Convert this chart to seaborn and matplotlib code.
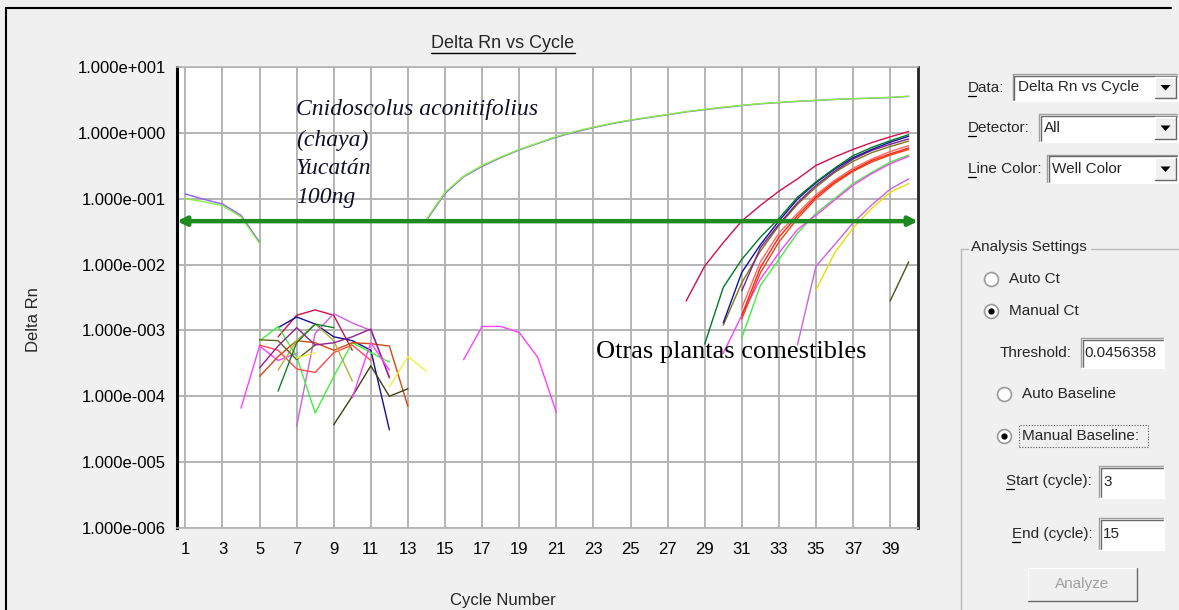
import numpy as np
import pandas as pd
import matplotlib
matplotlib.use("Agg")
import matplotlib.pyplot as plt
import seaborn as sns
from matplotlib.lines import Line2D
from matplotlib.patches import Rectangle, Polygon
from matplotlib.ticker import FixedLocator, NullLocator

# ---------------- data ----------------
title_text = "Delta Rn vs Cycle"
x_label = "Cycle Number"
y_label = "Delta Rn"
threshold = 0.0456358
x_ticks = list(range(1, 40, 2))
x_tick_labels = [str(t) for t in x_ticks]
y_ticks = [1e-6, 1e-5, 1e-4, 1e-3, 1e-2, 1e-1, 1e0, 1e1]
y_tick_labels = ["1.000e-006", "1.000e-005", "1.000e-004", "1.000e-003",
                 "1.000e-002", "1.000e-001", "1.000e+000", "1.000e+001"]

# chaya (Cnidoscolus aconitifolius) wells
chaya_early_cycles = [1, 2, 3, 4, 5]
chaya_purple_early = [0.118, 0.098, 0.083, 0.056, 0.022]
chaya_green_early = [0.100, 0.090, 0.078, 0.053, 0.021]
chaya_late_cycles = list(range(14, 41))
chaya_green_late = [0.049, 0.125, 0.22, 0.32, 0.43, 0.56, 0.70, 0.88, 1.05, 1.22,
                    1.40, 1.57, 1.73, 1.90, 2.10, 2.28, 2.45, 2.62, 2.78, 2.90,
                    3.02, 3.12, 3.22, 3.30, 3.38, 3.46, 3.60]
chaya_purple_late = [0.047, 0.12, 0.215, 0.31, 0.42, 0.55, 0.69, 0.86, 1.03, 1.20,
                     1.38, 1.55, 1.71, 1.88, 2.08, 2.25, 2.42, 2.60, 2.76, 2.88,
                     3.00, 3.10, 3.22, 3.30, 3.36, 3.44, 3.58]

# late-amplifying wells (other edible plants): start cycle + values
amp_crimson = (28, [0.0028, 0.0095, 0.0215, 0.046, 0.079, 0.13, 0.20, 0.32, 0.43, 0.56, 0.71, 0.87, 1.05])
amp_darkgreen = (29, [0.00062, 0.0045, 0.012, 0.026, 0.05, 0.105, 0.18, 0.29, 0.45, 0.60, 0.76, 0.94])
amp_blue = (30, [0.0013, 0.0076, 0.02, 0.046, 0.098, 0.175, 0.28, 0.42, 0.56, 0.72, 0.89])
amp_olive = (30, [0.0012, 0.0053, 0.016, 0.039, 0.082, 0.15, 0.25, 0.37, 0.50, 0.62, 0.75])
amp_purple = (31, [0.004, 0.018, 0.041, 0.087, 0.16, 0.26, 0.40, 0.54, 0.67, 0.81])
amp_red = (31, [0.0017, 0.009, 0.026, 0.055, 0.107, 0.18, 0.27, 0.38, 0.48, 0.59])
amp_orange = (31, [0.0015, 0.0075, 0.022, 0.05, 0.10, 0.17, 0.26, 0.36, 0.46, 0.56])
amp_salmon = (31, [0.0022, 0.011, 0.030, 0.060, 0.115, 0.19, 0.29, 0.40, 0.52, 0.64])
amp_pink = (30, [0.00045, 0.0017, 0.006, 0.015, 0.034, 0.056, 0.095, 0.16, 0.24, 0.34, 0.44])
amp_lime = (31, [0.00077, 0.0048, 0.012, 0.030, 0.060, 0.10, 0.17, 0.25, 0.36, 0.46])
amp_orchid = (34, [0.0006, 0.0094, 0.020, 0.043, 0.080, 0.14, 0.20])
amp_yellow = (35, [0.0041, 0.015, 0.036, 0.071, 0.125, 0.17])
amp_darkolive = (39, [0.0028, 0.011])

# background noise wells: start cycle + values
noise_magenta1 = (4, [6.6e-5, 5.8e-4, 3.5e-4, 4.5e-4])
noise_crimson = (6, [8e-4, 1.7e-3, 2.05e-3, 1.7e-3, 5e-4])
noise_navy = (6, [1.1e-3, 1.6e-3, 1.25e-3, 8e-4, 7e-4, 5e-4, 3.1e-5])
noise_orchid = (7, [3.5e-5, 9e-4, 1.8e-3, 1.3e-3, 1.0e-3, 2e-4])
noise_lime = (5, [6.9e-4, 1.15e-3, 4e-4, 5.6e-5, 2e-4, 6.5e-4, 4.6e-4, 3.3e-4])
noise_orange = (5, [2e-4, 4e-4, 7e-4, 6.5e-4, 5e-4, 6.5e-4, 6.3e-4, 5.8e-4, 7e-5])
noise_salmon = (5, [6e-4, 5e-4, 2.6e-4, 2.3e-4, 4.6e-4, 6e-4, 3.5e-4])
noise_khaki = (6, [2.5e-4, 7e-4, 1.25e-3, 7e-4, 1.7e-4])
noise_darkolive = (9, [3.7e-5, 1e-4, 2.9e-4, 1e-4, 1.3e-4])
noise_olivebrown = (5, [7.2e-4, 7e-4, 3.6e-4, 6e-4])
noise_darkgreen = (6, [1.2e-4, 6.5e-4, 1.25e-3, 1.1e-3])
noise_purple = (5, [2.7e-4, 5.8e-4, 1.1e-3, 6e-4, 6.5e-4, 8e-4, 1.05e-3, 1.9e-4])
noise_magenta2 = (10, [9.5e-5, 6.5e-4, 2.5e-4])
noise_yellow1 = (12, [1.4e-4, 4e-4, 2.4e-4])
noise_yellow2 = (7, [3.8e-4, 4.6e-4])
noise_magenta3 = (16, [3.6e-4, 1.15e-3, 1.15e-3, 9.3e-4, 3.9e-4, 5.7e-5])

# ---------------- build long-form table ----------------
wells = [
    ("chaya_purple_a", chaya_early_cycles, chaya_purple_early, "#8a5cf5"),
    ("chaya_green_a", chaya_early_cycles, chaya_green_early, "#86f040"),
    ("chaya_purple_b", chaya_late_cycles, chaya_purple_late, "#8a5cf5"),
    ("chaya_green_b", chaya_late_cycles, chaya_green_late, "#86f040"),
]
series = [
    ("amp_crimson", amp_crimson, "#d0104a"), ("amp_lime", amp_lime, "#40f040"),
    ("amp_pink", amp_pink, "#ff40ff"), ("amp_salmon", amp_salmon, "#ff6a5a"),
    ("amp_orange", amp_orange, "#e04a10"), ("amp_red", amp_red, "#ff2020"),
    ("amp_olive", amp_olive, "#7a7a10"), ("amp_purple", amp_purple, "#802090"),
    ("amp_blue", amp_blue, "#1010a0"), ("amp_darkgreen", amp_darkgreen, "#007a28"),
    ("amp_orchid", amp_orchid, "#cc60e0"), ("amp_yellow", amp_yellow, "#e8e000"),
    ("amp_darkolive", amp_darkolive, "#505018"),
    ("noise_magenta1", noise_magenta1, "#ff40ff"), ("noise_crimson", noise_crimson, "#d0104a"),
    ("noise_navy", noise_navy, "#10109a"), ("noise_orchid", noise_orchid, "#cc60dd"),
    ("noise_lime", noise_lime, "#40f040"), ("noise_orange", noise_orange, "#d04a10"),
    ("noise_salmon", noise_salmon, "#ff4a4a"), ("noise_khaki", noise_khaki, "#b8b040"),
    ("noise_darkolive", noise_darkolive, "#404010"), ("noise_olivebrown", noise_olivebrown, "#606020"),
    ("noise_darkgreen", noise_darkgreen, "#108028"), ("noise_purple", noise_purple, "#902090"),
    ("noise_magenta2", noise_magenta2, "#ff40ff"), ("noise_yellow1", noise_yellow1, "#f0f040"),
    ("noise_yellow2", noise_yellow2, "#f0f040"), ("noise_magenta3", noise_magenta3, "#ff40ff"),
]
for name, (start, vals), col in series:
    wells.append((name, list(range(start, start + len(vals))), vals, col))

rows = []
palette = {}
for name, cyc, vals, col in wells:
    palette[name] = col
    for c, v in zip(cyc, vals):
        rows.append({"cycle": c, "delta_rn": v, "well": name})
df = pd.DataFrame(rows)

# ---------------- figure ----------------
W, H = 1179, 610
sns.set_theme(style="white")
plt.rcParams["font.family"] = ["Liberation Sans", "DejaVu Sans"]
BG = "#f0f0f0"
fig = plt.figure(figsize=(W / 100, H / 100), dpi=100, facecolor=BG)

def fx(x):
    return x / W

def fy(y):
    return 1 - y / H

ax = fig.add_axes([fx(177), fy(528), (918 - 177) / W, (528 - 67) / H])
ax.set_facecolor("white")

sns.lineplot(data=df, x="cycle", y="delta_rn", hue="well", hue_order=list(palette.keys()),
             palette=palette, estimator=None, legend=False, linewidth=1.0, ax=ax, sort=True)

ax.set_yscale("log")
ax.set_ylim(y_ticks[0], y_ticks[-1])
ax.set_xlim(0.55, 40.5)
ax.yaxis.set_major_locator(FixedLocator(y_ticks))
ax.yaxis.set_minor_locator(NullLocator())
ax.set_yticklabels(y_tick_labels)
ax.set_xticks(x_ticks)
ax.set_xticklabels(x_tick_labels)
ax.tick_params(axis="both", length=0, labelsize=12, colors="black")
ax.tick_params(axis="y", pad=8)
ax.tick_params(axis="x", pad=10)
ax.set_xlabel("")
ax.set_ylabel("")
ax.grid(True, color="#b4b4b4", linewidth=1.4)
ax.set_axisbelow(True)
for s in ["top", "bottom"]:
    ax.spines[s].set_visible(True)
    ax.spines[s].set_color("#b4b4b4")
    ax.spines[s].set_linewidth(1.2)
ax.spines["left"].set_color("black")
ax.spines["left"].set_linewidth(2.2)
ax.spines["right"].set_color("#222222")
ax.spines["right"].set_linewidth(2.0)

# threshold line with arrows
ax.annotate("", xy=(1.0, threshold), xytext=(0.0, threshold),
            xycoords=("axes fraction", "data"), textcoords=("axes fraction", "data"),
            arrowprops=dict(arrowstyle="<|-|>", color="#1f8a1f", lw=3.2,
                            mutation_scale=13, shrinkA=0, shrinkB=0))

# annotations
serif = ["Liberation Serif", "DejaVu Serif"]
chaya_lines = ["Cnidoscolus aconitifolius", "(chaya)", "Yucatán", "100ng"]
for txt, yy in zip(chaya_lines, [110, 140, 168, 198]):
    fig.text(fx(296), fy(yy), txt, family=serif, style="italic", fontsize=17,
             color="#101028", ha="left", va="center")
fig.text(fx(596), fy(352), "Otras plantas comestibles", family=serif, fontsize=19,
         color="black", ha="left", va="center")

# titles
t = fig.text(fx(503), fy(43), title_text, fontsize=13, ha="center", va="center")
fig.text(fx(33), fy(320), y_label, fontsize=12, rotation=90, ha="center", va="center")
fig.text(fx(503), fy(601), x_label, fontsize=12, ha="center", va="center")

# ---------------- right-hand control panel ----------------
UI = 11

def line(x0, y0, x1, y1, c, lw=1.0, ls="-"):
    fig.add_artist(Line2D([fx(x0), fx(x1)], [fy(y0), fy(y1)], color=c, lw=lw, ls=ls,
                          transform=fig.transFigure))

def rect(x0, y0, x1, y1, fc, ec="none", lw=0.0):
    fig.add_artist(Rectangle((fx(x0), fy(y1)), (x1 - x0) / W, (y1 - y0) / H, facecolor=fc,
                             edgecolor=ec, lw=lw, transform=fig.transFigure))

def sunken(x0, y0, x1, y1):
    rect(x0, y0, x1, y1, "white")
    line(x0, y0, x1, y0, "#a0a0a0", 1.0)
    line(x0, y0, x0, y1, "#a0a0a0", 1.0)
    line(x0 + 1.5, y0 + 1.5, x1 - 1, y0 + 1.5, "#696969", 1.0)
    line(x0 + 1.5, y0 + 1.5, x0 + 1.5, y1 - 1, "#696969", 1.0)
    line(x0, y1, x1, y1, "#ffffff", 1.0)
    line(x1, y0, x1, y1, "#ffffff", 1.0)

def button(x0, y0, x1, y1):
    rect(x0, y0, x1, y1, BG)
    line(x0, y0, x1, y0, "#ffffff", 1.0)
    line(x0, y0, x0, y1, "#ffffff", 1.0)
    line(x0, y1, x1, y1, "#696969", 1.0)
    line(x1, y0, x1, y1, "#696969", 1.0)

def combo(x0, y0, x1, y1, label_x, label, value):
    fig.text(fx(label_x), fy((y0 + y1) / 2), label, fontsize=UI, ha="left", va="center")
    sunken(x0, y0, x1, y1)
    fig.text(fx(x0 + 5), fy((y0 + y1) / 2), value, fontsize=UI, ha="left", va="center")
    button(x1 - 23, y0 + 3, x1 - 2, y1 - 3)
    cx, cy = x1 - 12.5, (y0 + y1) / 2
    fig.add_artist(Polygon([[fx(cx - 5), fy(cy - 2.5)], [fx(cx + 5), fy(cy - 2.5)], [fx(cx), fy(cy + 3)]],
                           closed=True, facecolor="black", edgecolor="none", transform=fig.transFigure))
    line(label_x, (y0 + y1) / 2 + 8, label_x + 8, (y0 + y1) / 2 + 8, "black", 0.9)

combo(1013, 74, 1178, 101, 968, "Data:", "Delta Rn vs Cycle")
combo(1039, 114, 1178, 142, 968, "Detector:", "All")
combo(1047, 155, 1178, 183, 968, "Line Color:", "Well Color")

# group box
gc = "#b8b8b8"
line(961, 249, 968, 249, gc, 1.0)
line(1091, 249, 1179, 249, gc, 1.0)
line(961, 249, 961, 610, gc, 1.0)
fig.text(fx(971), fy(247), "Analysis Settings", fontsize=UI, ha="left", va="center")

def radio(cx, cy, label, selected):
    fig.add_artist(Line2D([fx(cx)], [fy(cy)], marker="o", ms=10, mfc="white", mec="#9a9a9a",
                          mew=1.2, transform=fig.transFigure))
    if selected:
        fig.add_artist(Line2D([fx(cx)], [fy(cy)], marker="o", ms=3.5, mfc="black", mec="black",
                              transform=fig.transFigure))
    fig.text(fx(cx + 18), fy(cy), label, fontsize=UI, ha="left", va="center")

radio(991, 279, "Auto Ct", False)
radio(991, 311, "Manual Ct", True)
fig.text(fx(1000), fy(353), "Threshold:", fontsize=UI, ha="left", va="center")
sunken(1081, 338, 1164, 368)
fig.text(fx(1084), fy(353), "0.0456358", fontsize=UI, ha="left", va="center")
radio(1004, 394, "Auto Baseline", False)
radio(1004, 436, "Manual Baseline:", True)
fig.add_artist(Rectangle((fx(1019), fy(447)), (1148 - 1019) / W, (447 - 425) / H, facecolor="none",
                         edgecolor="#555555", lw=0.8, ls=(0, (1, 1.5)), transform=fig.transFigure))
fig.text(fx(1006), fy(481), "Start (cycle):", fontsize=UI, ha="left", va="center")
line(1006, 489, 1014, 489, "black", 0.9)
sunken(1099, 466, 1164, 498)
fig.text(fx(1103), fy(482), "3", fontsize=UI, ha="left", va="center")
fig.text(fx(1012), fy(534), "End (cycle):", fontsize=UI, ha="left", va="center")
line(1012, 542, 1020, 542, "black", 0.9)
sunken(1099, 518, 1164, 550)
fig.text(fx(1103), fy(534), "15", fontsize=UI, ha="left", va="center")
button(1028, 568, 1137, 601)
fig.text(fx(1082.5), fy(584), "Analyze", fontsize=UI, ha="center", va="center", color="#a0a0a0")

# screenshot border
line(6, 8, 1171, 8, "black", 1.5)
line(6, 8, 6, 610, "black", 1.5)

# underline the chart title
fig.canvas.draw()
bb = t.get_window_extent()
fig.add_artist(Line2D([bb.x0 / W, bb.x1 / W], [(bb.y0 - 1) / H, (bb.y0 - 1) / H], color="black",
                      lw=1.0, transform=fig.transFigure))

fig.savefig("out.png", dpi=100, facecolor=BG)
